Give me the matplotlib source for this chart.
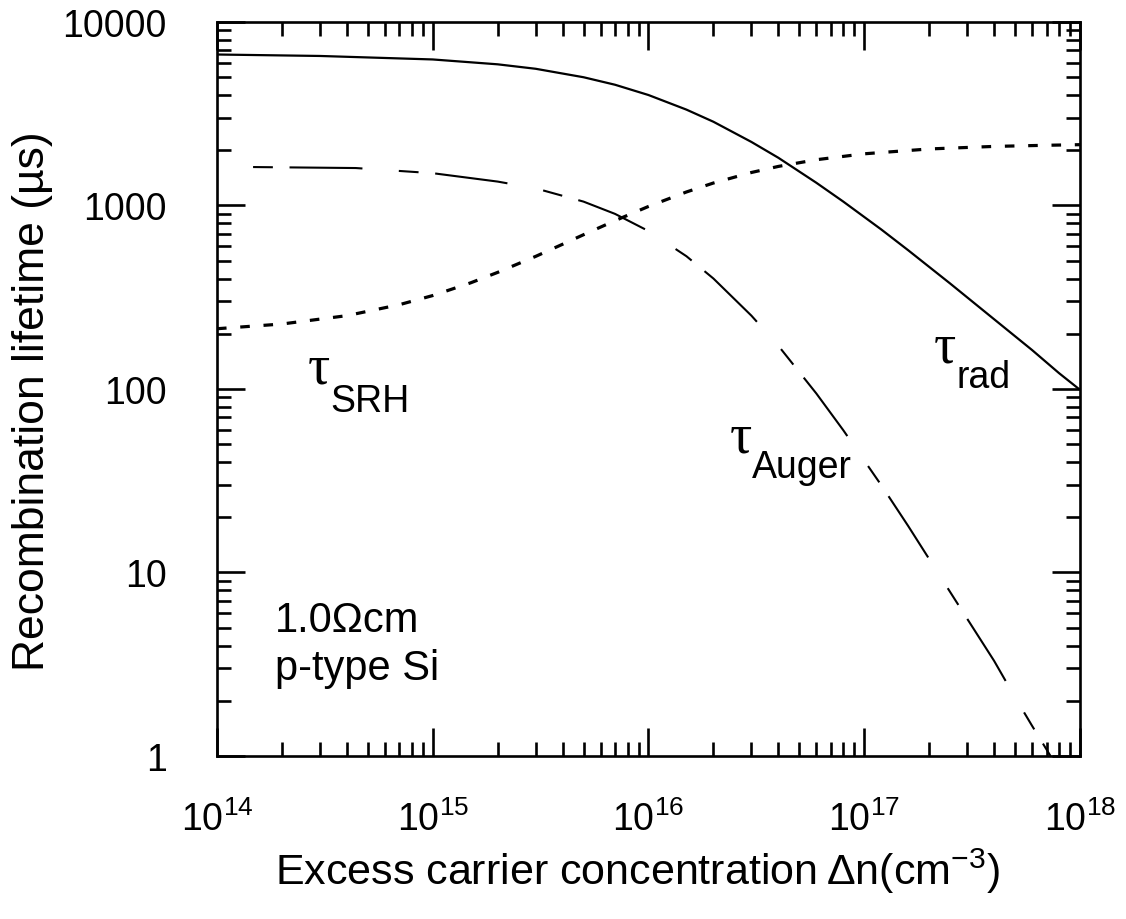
import matplotlib
matplotlib.use("Agg")

import matplotlib.pyplot as plt
from matplotlib.ticker import LogLocator, NullFormatter, FuncFormatter

plt.rcParams["font.family"] = ["Liberation Sans", "DejaVu Sans"]
plt.rcParams["mathtext.fontset"] = "custom"
plt.rcParams["mathtext.rm"] = "Liberation Sans"
plt.rcParams["mathtext.it"] = "Liberation Sans:italic"
plt.rcParams["mathtext.bf"] = "Liberation Sans:bold"

# ---- data (Δn in cm^-3, lifetime in µs) ----
dn_rad = [1e14, 3e14, 1e15, 2e15, 3e15, 5e15, 7e15, 1e16, 1.5e16, 2e16,
          3e16, 4e16, 6e16, 8e16, 1.2e17, 1.6e17, 2.5e17, 4e17, 6e17, 8e17, 1e18]
tau_rad = [6650, 6530, 6250, 5880, 5560, 5000, 4550, 4000, 3330, 2860,
           2220, 1820, 1330, 1050, 740, 570, 376, 240, 163, 122, 99]

dn_auger = [1.47e14, 4.4e14, 1e15, 2e15, 3e15, 5e15, 7e15, 1e16, 1.5e16, 2e16,
            3e16, 4e16, 6e16, 8e16, 1.2e17, 1.6e17, 2.5e17, 3e17, 4e17, 5e17,
            6e17, 7.5e17]
tau_auger = [1620, 1600, 1500, 1350, 1240, 1050, 900, 726, 529, 400,
             251, 172, 94.5, 59.6, 29.9, 17.9, 7.84, 5.6, 3.3, 2.09,
             1.46, 0.95]

dn_srh = [1e14, 2e14, 4e14, 7e14, 1e15, 1.5e15, 2e15, 3e15, 4e15, 5e15,
          7e15, 1e16, 1.5e16, 2e16, 3e16, 4e16, 6e16, 1e17, 2e17, 4e17,
          7e17, 1e18]
tau_srh = [213, 226, 251, 288, 323, 379, 432, 528, 615, 693,
           827, 988, 1185, 1326, 1513, 1633, 1776, 1913, 2033, 2099,
           2129, 2145]

fig = plt.figure(figsize=(11.26, 9.2), dpi=100)
ax = fig.add_axes([0.1927, 0.1772, 0.7664, 0.7978])

ax.plot(dn_rad, tau_rad, color="black", lw=1.6, solid_capstyle="butt")
ax.plot(dn_auger, tau_auger, color="black", lw=1.5,
        linestyle=(0, (9.5, 8, 35, 17.5)), dash_capstyle="butt")
ax.plot(dn_srh, tau_srh, color="black", lw=2.3,
        linestyle=(0, (3.0, 4.3)), dash_capstyle="butt")

ax.set_xscale("log")
ax.set_yscale("log")
ax.set_xlim(1e14, 1e18)
ax.set_ylim(1, 1e4)

# ticks: inward on all four sides
for axis in (ax.xaxis, ax.yaxis):
    axis.set_major_locator(LogLocator(base=10, numticks=10))
    axis.set_minor_locator(LogLocator(base=10, subs=range(2, 10), numticks=20))
    axis.set_minor_formatter(NullFormatter())
ax.yaxis.set_major_formatter(FuncFormatter(lambda v, p: f"{v:g}"))
ax.tick_params(which="both", direction="in", top=True, right=True, width=1.9)
ax.tick_params(which="major", length=20)
ax.tick_params(which="minor", length=10)
ax.tick_params(axis="x", which="major", labelsize=27, pad=32)
ax.tick_params(axis="y", which="major", labelsize=27, pad=36)
for s in ax.spines.values():
    s.set_linewidth(1.9)

ax.set_xlabel("Excess carrier concentration\u2009Δn(cm$^{-3}$)", fontsize=31)
ax.xaxis.set_label_coords(0.487, -0.122)
ax.set_ylabel("Recombination lifetime (µs)", fontsize=32)
ax.yaxis.set_label_coords(-0.19, 0.485)

# curve labels
tau_font = ["Liberation Serif", "DejaVu Serif"]
ax.text(2.64e14, 109, "τ", fontsize=40, family=tau_font, ha="left", va="baseline")
ax.text(3.34e14, 75.9, "SRH", fontsize=27, ha="left", va="baseline")
ax.text(2.39e16, 45.4, "τ", fontsize=40, family=tau_font, ha="left", va="baseline")
ax.text(3.03e16, 33.1, "Auger", fontsize=27, ha="left", va="baseline")
ax.text(2.09e17, 142, "τ", fontsize=40, family=tau_font, ha="left", va="baseline")
ax.text(2.68e17, 102.6, "rad", fontsize=27, ha="left", va="baseline")

ax.text(1.86e14, 4.8, "1.0Ωcm", fontsize=30, ha="left", va="baseline")
ax.text(1.86e14, 2.63, "p-type Si", fontsize=30, ha="left", va="baseline")

fig.savefig("out.png", dpi=100, facecolor="white")
